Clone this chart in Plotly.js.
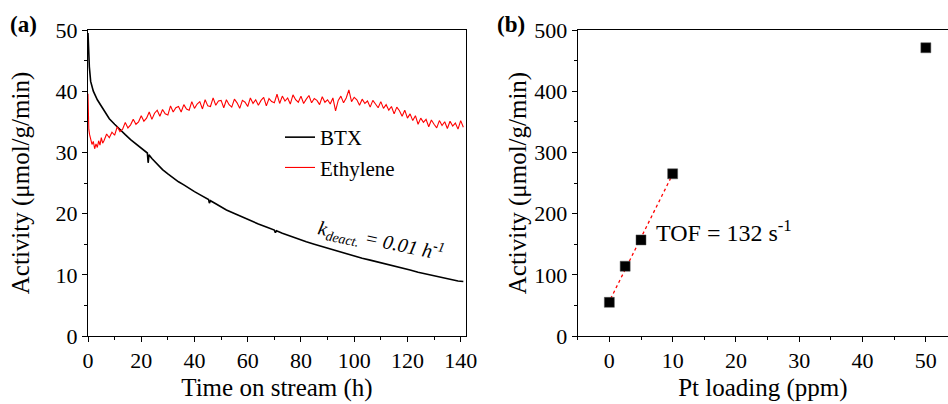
<!DOCTYPE html>
<html>
<head>
<meta charset="utf-8">
<script src="https://cdn.plot.ly/plotly-3.0.1.min.js"></script>
<style>html,body{margin:0;padding:0;background:#fff;}#chart{width:948px;height:404px;}</style>
</head>
<body>
<div id="chart"></div>
<script>
// ---- Panel (a): activity vs time on stream ----
const btxTime = [0,0.2,0.5,1,2,3.5,5,6,8,10,12,14,16,18,20,21.7,22.3,22.6,22.9,24,26,28,30,32,34,36,38,40,42,44,45.3,45.6,46,48,50,52,55,58,61,64,67,70,70.4,70.8,73,76,79,82,85,88,91,94,97,100,103,106,109,112,115,118,121,124,127,130,133,136,139,141];
const btxActivity = [49.5,46.5,44.0,41.6,40.0,38.6,37.5,36.9,35.5,34.6,33.7,32.9,32.1,31.4,30.6,30.1,29.9,28.3,29.6,29.0,28.1,27.2,26.5,25.8,25.2,24.7,24.1,23.6,23.1,22.6,22.3,21.7,22.1,21.6,21.1,20.6,20.0,19.4,18.9,18.3,17.8,17.3,16.9,17.2,16.8,16.3,15.8,15.4,15.0,14.6,14.2,13.8,13.4,13.0,12.7,12.4,12.1,11.8,11.4,11.1,10.8,10.4,10.1,9.8,9.5,9.3,9.0,8.9];

const ethTime = [0,0.1,0.3,0.6,1,1.5,2,2.5,3,3.5,4,4.5,5,5.5,6,7,8,9,10,11,12,13,14,15,16,17,18,19,20,21,22,23,24,25,26,27,28,29,30,31,32,33,34,35,36,37,38,39,40,41,42,43,44,45,46,47,48,49,50,51,52,53,54,55,56,57,58,59,60,61,62,63,64,65,66,67,68,69,70,71,72,73,74,75,76,77,78,79,80,81,82,83,84,85,86,87,88,89,90,91,92,93,94,95,96,97,98,99,100,101,102,103,104,105,106,107,108,109,110,111,112,113,114,115,116,117,118,119,120,121,122,123,124,125,126,127,128,129,130,131,132,133,134,135,136,137,138,139,140,141];
const ethActivity = [39.6,35.0,33.8,32.9,32.3,31.3,31.8,30.6,31.4,30.8,31.9,31.2,32.4,31.5,31.9,
  33.0,32.4,33.3,32.8,34.2,33.4,33.8,34.9,34.0,34.5,35.4,34.6,35.0,36.0,35.1,35.6,36.6,35.4,36.4,36.9,
  35.9,37.0,36.3,36.1,37.6,36.6,37.3,37.5,36.6,37.8,37.1,36.9,38.3,37.2,37.9,38.3,37.1,38.6,37.6,37.5,
  38.9,37.7,38.4,38.5,37.3,38.6,37.8,37.4,38.7,38.1,37.2,38.5,38.2,37.5,38.9,38.0,38.6,37.7,38.5,39.0,
  37.6,38.8,38.3,38.1,39.5,38.0,39.2,38.4,38.9,37.9,39.4,38.6,38.2,39.2,38.0,38.7,39.3,38.1,38.8,38.5,
  37.8,39.1,38.2,38.6,37.9,38.9,36.8,38.5,39.2,38.1,38.9,40.2,38.3,39.0,38.6,37.7,38.7,38.0,38.4,37.4,
  38.5,37.9,37.3,38.3,37.2,37.8,36.9,37.5,36.3,37.4,36.8,35.9,36.9,35.6,36.3,35.2,36.0,34.6,35.6,34.9,
  35.4,34.2,35.3,34.6,34.0,35.2,34.4,35.0,33.9,35.1,34.3,34.8,33.8,35.2,34.1];

// ---- Panel (b): activity vs Pt loading ----
const ptLoading = [0, 2.5, 5, 10, 50];
const ptActivity = [55, 114, 157, 265, 471];
const fitX = [0.2, 9.7];
const fitY = [60.8, 258.2];

const FONT = "Liberation Serif, Times New Roman, serif";

const traces = [
  {x: btxTime, y: btxActivity, type: 'scatter', mode: 'lines', name: 'BTX',
   line: {color: '#000000', width: 1.6}, xaxis: 'x', yaxis: 'y'},
  {x: ethTime, y: ethActivity, type: 'scatter', mode: 'lines', name: 'Ethylene',
   line: {color: '#ff0000', width: 1.1}, xaxis: 'x', yaxis: 'y'},
  {x: fitX, y: fitY, type: 'scatter', mode: 'lines', showlegend: false,
   line: {color: '#ff0000', width: 1.3, dash: 'dot'}, xaxis: 'x2', yaxis: 'y2'},
  {x: ptLoading, y: ptActivity, type: 'scatter', mode: 'markers', showlegend: false,
   marker: {symbol: 'square', size: 10, color: '#000000', line: {color: '#555', width: 0.5}},
   xaxis: 'x2', yaxis: 'y2'}
];

const W = 948, H = 404;
const axBase = {
  showgrid: false, zeroline: false, showline: true, linecolor: '#000', linewidth: 1,
  ticks: 'outside', ticklen: 5, tickwidth: 1, tickcolor: '#000',
  tickfont: {family: FONT, size: 22, color: '#000'},
  automargin: false
};
const minorBase = {ticks: 'outside', ticklen: 3, tickwidth: 1, tickcolor: '#000', showgrid: false};
const titleFont = {family: FONT, size: 25, color: '#000'};

const layout = {
  width: W, height: H,
  margin: {l: 0, r: 0, t: 0, b: 0},
  paper_bgcolor: '#fff', plot_bgcolor: '#fff',
  font: {family: FONT, color: '#000'},
  showlegend: true,
  legend: {x: 280 / W, y: 1 - 117 / H, xanchor: 'left', yanchor: 'top',
           bgcolor: 'rgba(0,0,0,0)', font: {family: FONT, size: 21, color: '#000'},
           tracegroupgap: 0},
  xaxis: Object.assign({}, axBase, {
    domain: [88 / W, 466 / W], range: [0, 142], dtick: 20, tick0: 0, mirror: true,
    minor: Object.assign({}, minorBase, {dtick: 10}),
    title: {text: 'Time on stream (h)', font: titleFont, standoff: 6},
    anchor: 'y'
  }),
  yaxis: Object.assign({}, axBase, {
    domain: [1 - 336 / H, 1 - 30 / H], range: [0, 50], dtick: 10, tick0: 0, mirror: true,
    minor: Object.assign({}, minorBase, {dtick: 5}),
    title: {text: 'Activity (μmol/g/min)', font: titleFont, standoff: 18},
    anchor: 'x'
  }),
  xaxis2: Object.assign({}, axBase, {
    domain: [577.7 / W, 1], range: [-5, 53.5], dtick: 10, tick0: 0, mirror: true,
    minor: Object.assign({}, minorBase, {dtick: 5}),
    title: {text: 'Pt loading (ppm)', font: titleFont, standoff: 6},
    anchor: 'y2'
  }),
  yaxis2: Object.assign({}, axBase, {
    domain: [1 - 336 / H, 1 - 30 / H], range: [0, 500], dtick: 100, tick0: 0, mirror: false,
    minor: Object.assign({}, minorBase, {dtick: 50}),
    title: {text: 'Activity (μmol/g/min)', font: titleFont, standoff: 0},
    anchor: 'x2'
  }),
  annotations: [
    {xref: 'paper', yref: 'paper', x: 23 / W, y: 1 - 24 / H, xanchor: 'center', yanchor: 'middle',
     text: '<b>(a)</b>', showarrow: false, font: {family: FONT, size: 23, color: '#000'}},
    {xref: 'paper', yref: 'paper', x: 511 / W, y: 1 - 24 / H, xanchor: 'center', yanchor: 'middle',
     text: '<b>(b)</b>', showarrow: false, font: {family: FONT, size: 23, color: '#000'}},
    {xref: 'x', yref: 'y', x: 110, y: 15.5, xanchor: 'center', yanchor: 'middle', textangle: 12, showarrow: false,
     text: '<i>k</i><sub><i>deact.</i></sub><i> = 0.01 h</i><sup><i>-1</i></sup>',
     font: {family: FONT, size: 20, color: '#000'}},
    {xref: 'x2', yref: 'y2', x: 7.0, y: 172, xanchor: 'left', yanchor: 'middle', showarrow: false,
     text: 'TOF = 132 s<sup>-1</sup>',
     font: {family: FONT, size: 24, color: '#000'}}
  ]
};

Plotly.newPlot('chart', traces, layout, {displayModeBar: false, staticPlot: true});
</script>
</body>
</html>
